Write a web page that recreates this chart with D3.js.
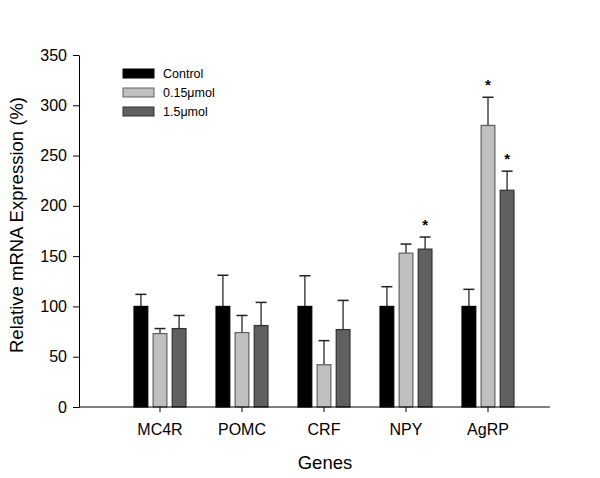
<!DOCTYPE html>
<html><head><meta charset="utf-8">
<script src="https://cdn.jsdelivr.net/npm/d3@7"></script>
<style>body{margin:0;background:#fff}svg{display:block;font-family:Arial,"Liberation Sans",sans-serif}</style>
</head><body><svg id="c" width="600" height="478"></svg>
<script>
const genes = ["MC4R","POMC","CRF","NPY","AgRP"];
const seriesNames = ["Control","0.15\u03bcmol","1.5\u03bcmol"];
const controlVals = [100,100,100,100,100];
const controlErr = [12,31,30.5,19.6,17];
const lowVals = [73,74,42,153,280];
const lowErr = [5,17,24,9,28];
const highVals = [78,81,77,157,215.5];
const highErr = [13,23,29,12,19];
const lowSig = [false,false,false,false,true];
const highSig = [false,false,false,true,true];
const yTicks = [0,50,100,150,200,250,300,350];

const fills = ["#000000","#c0c0c0","#606060"];
const strokes = ["#000000","#606060","#303030"];
const series = [
  {name: seriesNames[0], vals: controlVals, err: controlErr, sig: [false,false,false,false,false]},
  {name: seriesNames[1], vals: lowVals, err: lowErr, sig: lowSig},
  {name: seriesNames[2], vals: highVals, err: highErr, sig: highSig}
];

const svg = d3.select("#c");
const y = d3.scaleLinear().domain([0,350]).range([407,55]);
const x = d3.scaleBand().domain(genes).range([119,529]);
const xs = d3.scaleBand().domain(d3.range(3)).range([0,55]).paddingInner(0.28).paddingOuter(0.08);

// bars
series.forEach((s,si)=>{
  const g = svg.append("g");
  genes.forEach((gname,i)=>{
    const bx = x(gname) + (x.bandwidth()-55)/2 + xs(si);
    const bw = xs.bandwidth();
    const cx = bx + bw/2;
    g.append("line").attr("x1",cx).attr("x2",cx).attr("y1",y(s.vals[i])).attr("y2",y(s.vals[i]+s.err[i]))
      .attr("stroke","#444").attr("stroke-width",1.5);
    g.append("line").attr("x1",cx-5.5).attr("x2",cx+5.5).attr("y1",y(s.vals[i]+s.err[i])).attr("y2",y(s.vals[i]+s.err[i]))
      .attr("stroke","#222").attr("stroke-width",1.5);
    g.append("rect").attr("x",bx).attr("y",y(s.vals[i])).attr("width",bw).attr("height",y(0)-y(s.vals[i]))
      .attr("fill",fills[si]).attr("stroke",strokes[si]).attr("stroke-width",1.2);
    if(s.sig[i]){
      g.append("text").attr("x",cx).attr("y",y(s.vals[i]+s.err[i])-7).attr("text-anchor","middle")
        .attr("font-size",15).attr("font-weight","bold").attr("fill","#000").text("*");
    }
  });
});

// y axis
const ya = svg.append("g").attr("transform","translate(79,0)")
  .call(d3.axisLeft(y).tickValues(yTicks).tickSize(6).tickPadding(6).tickSizeOuter(0));
ya.select(".domain").attr("stroke","#000");
ya.selectAll(".tick line").attr("stroke","#000");
ya.selectAll("text").attr("font-size",16).attr("font-family","Arial,'Liberation Sans',sans-serif").attr("fill","#000");

// x axis
const xa = svg.append("g").attr("transform","translate(0,407)")
  .call(d3.axisBottom(x).tickSize(5).tickPadding(12).tickSizeOuter(0));
xa.select(".domain").remove();
xa.append("line").attr("x1",79).attr("x2",550).attr("y1",0).attr("y2",0).attr("stroke","#000");
xa.selectAll(".tick line").attr("stroke","#000");
xa.selectAll("text").attr("font-size",16).attr("font-family","Arial,'Liberation Sans',sans-serif").attr("fill","#000");

// axis titles
svg.append("text").attr("x",325).attr("y",469).attr("text-anchor","middle").attr("font-size",18.5).text("Genes");
svg.append("text").attr("transform","translate(23,225) rotate(-90)").attr("text-anchor","middle")
  .attr("font-size",18.5).text("Relative mRNA Expression (%)");

// legend
const lg = svg.append("g").attr("transform","translate(123,69)");
seriesNames.forEach((n,i)=>{
  lg.append("rect").attr("x",0).attr("y",i*19).attr("width",31).attr("height",9)
    .attr("fill",fills[i]).attr("stroke",strokes[i]).attr("stroke-width",1);
  lg.append("text").attr("x",40).attr("y",i*19+9).attr("font-size",12.5).attr("fill","#000").text(n);
});
</script></body></html>
